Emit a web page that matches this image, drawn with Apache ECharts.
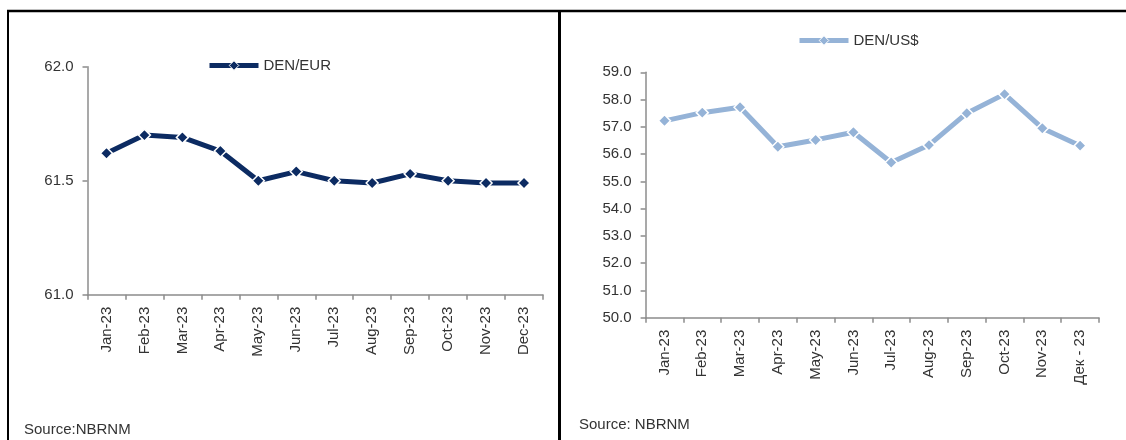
<!DOCTYPE html>
<html>
<head>
<meta charset="utf-8">
<script src="https://cdn.jsdelivr.net/npm/echarts@6/dist/echarts.min.js"></script>
<style>
  html, body { margin: 0; padding: 0; background: #fff; }
  #chart { width: 1126px; height: 440px; }
</style>
</head>
<body>
<div id="chart"></div>
<script>
// Monthly average exchange rates of the denar, 2023
const eurMonths = ['Jan-23', 'Feb-23', 'Mar-23', 'Apr-23', 'May-23', 'Jun-23',
                   'Jul-23', 'Aug-23', 'Sep-23', 'Oct-23', 'Nov-23', 'Dec-23'];
const usdMonths = ['Jan-23', 'Feb-23', 'Mar-23', 'Apr-23', 'May-23', 'Jun-23',
                   'Jul-23', 'Aug-23', 'Sep-23', 'Oct-23', 'Nov-23', 'Дек - 23'];
const denEur = [61.62, 61.70, 61.69, 61.63, 61.50, 61.54, 61.50, 61.49, 61.53, 61.50, 61.49, 61.49];
const denUsd = [57.22, 57.52, 57.72, 56.27, 56.52, 56.80, 55.69, 56.33, 57.50, 58.20, 56.95, 56.31];
const eurName = 'DEN/EUR';
const usdName = 'DEN/US$';
const sourceLeft = 'Source:NBRNM';
const sourceRight = 'Source: NBRNM';

const FONT = "'Liberation Sans', Arial, sans-serif";
const FS = 15;
const TEXT = '#333333';
const AXIS = '#8c8c8c';
const NAVY = '#0c2b62';
const LIGHT = '#95b3d7';

function xAxis(gridIndex, data) {
  return {
    type: 'category', gridIndex, data, boundaryGap: true,
    axisLine: { lineStyle: { color: AXIS, width: 1.5 } },
    axisTick: { show: true, length: 5, lineStyle: { color: AXIS, width: 1.5 } },
    axisLabel: { rotate: 90, margin: 12, color: TEXT, fontFamily: FONT, fontSize: FS },
    splitLine: { show: false }
  };
}
function yAxis(gridIndex, min, max, interval) {
  return {
    type: 'value', gridIndex, min, max, interval,
    axisLine: { show: true, lineStyle: { color: AXIS, width: 1.5 } },
    axisTick: { show: true, length: 5, lineStyle: { color: AXIS, width: 1.5 } },
    axisLabel: { margin: 14, color: TEXT, fontFamily: FONT, fontSize: FS,
                 formatter: v => v.toFixed(1) },
    splitLine: { show: false }
  };
}
function lineSeries(name, data, color, idx) {
  return {
    name, type: 'line', data, xAxisIndex: idx, yAxisIndex: idx,
    symbol: 'diamond', symbolSize: 12,
    lineStyle: { color, width: 5 },
    itemStyle: { color, borderColor: '#fff', borderWidth: 1.5 },
    emphasis: { disabled: true },
    animation: false
  };
}
function legend(name, color, left, top) {
  return {
    data: [name], left, top, padding: 0, itemWidth: 49, itemHeight: 12,
    lineStyle: { width: 5, color },
    itemStyle: { color, borderColor: '#fff', borderWidth: 1 },
    textStyle: { color: TEXT, fontFamily: FONT, fontSize: FS }
  };
}

const chart = echarts.init(document.getElementById('chart'));
chart.setOption({
  backgroundColor: '#ffffff',
  animation: false,
  legend: [legend(eurName, NAVY, 207, 58), legend(usdName, LIGHT, 797, 33)],
  grid: [
    { left: 87.5, top: 66.7, width: 455.5, height: 228 },
    { left: 645.6, top: 72.3, width: 453.4, height: 245.4 }
  ],
  xAxis: [xAxis(0, eurMonths), xAxis(1, usdMonths)],
  yAxis: [yAxis(0, 61.0, 62.0, 0.5), yAxis(1, 50.0, 59.0, 1.0)],
  series: [
    lineSeries(eurName, denEur, NAVY, 0),
    lineSeries(usdName, denUsd, LIGHT, 1)
  ],
  graphic: [
    { type: 'line', shape: { x1: 7, y1: 11, x2: 1126, y2: 11 }, style: { stroke: '#000', lineWidth: 2.5 } },
    { type: 'line', shape: { x1: 8, y1: 11, x2: 8, y2: 440 }, style: { stroke: '#000', lineWidth: 2 } },
    { type: 'line', shape: { x1: 559.5, y1: 11, x2: 559.5, y2: 440 }, style: { stroke: '#000', lineWidth: 3 } },
    { type: 'text', left: 24, top: 422, style: { text: sourceLeft, fill: TEXT, font: '15px ' + FONT } },
    { type: 'text', left: 579, top: 417, style: { text: sourceRight, fill: TEXT, font: '15px ' + FONT } }
  ]
});
</script>
</body>
</html>
